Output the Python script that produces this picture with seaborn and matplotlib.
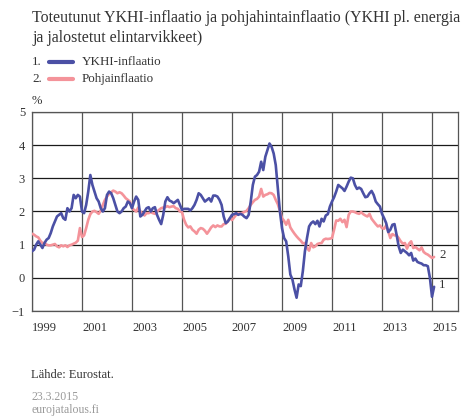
import numpy as np
import pandas as pd
import matplotlib
matplotlib.use("Agg")
import matplotlib.pyplot as plt
import seaborn as sns

# Monthly data Jan 1999 - Feb 2015 (%)
ykhi = [
    0.8, 0.85, 1.0, 1.1, 1.0, 0.9, 1.05, 1.15, 1.2, 1.35, 1.55, 1.7,        # 1999
    1.85, 1.9, 1.95, 1.8, 1.75, 2.1, 2.0, 2.1, 2.5, 2.4, 2.5, 2.45,         # 2000
    2.0, 1.95, 2.2, 2.6, 3.1, 2.8, 2.6, 2.4, 2.3, 2.1, 2.0, 2.1,            # 2001
    2.5, 2.6, 2.55, 2.4, 2.2, 2.0, 1.95, 2.0, 2.1, 2.15, 2.3, 2.25,         # 2002
    2.1, 2.3, 2.45, 2.35, 1.85, 1.9, 2.0, 2.1, 2.13, 2.0, 2.1, 2.13,        # 2003
    1.9, 1.75, 1.62, 1.9, 2.3, 2.43, 2.33, 2.3, 2.25, 2.3, 2.35, 2.2,       # 2004
    2.05, 2.08, 2.08, 2.08, 2.03, 2.1, 2.2, 2.35, 2.55, 2.5, 2.4, 2.3,      # 2005
    2.35, 2.4, 2.3, 2.48, 2.48, 2.45, 2.35, 2.2, 1.85, 1.65, 1.7, 1.8,      # 2006
    1.9, 1.92, 1.95, 1.9, 1.93, 1.9, 1.84, 1.8, 1.9, 2.3, 2.8, 3.05,        # 2007
    3.1, 3.2, 3.5, 3.25, 3.65, 3.85, 4.05, 3.95, 3.75, 3.4, 2.7, 2.0,       # 2008
    1.5, 1.2, 1.1, 0.65, 0.1, -0.05, -0.35, -0.6, -0.2, -0.25, 0.2, 0.8,    # 2009
    1.2, 1.55, 1.65, 1.7, 1.62, 1.72, 1.55, 1.78, 1.7, 1.88, 1.92, 2.15,    # 2010
    2.3, 2.43, 2.6, 2.8, 2.75, 2.7, 2.62, 2.75, 2.9, 3.02, 3.0, 2.8,        # 2011
    2.68, 2.72, 2.68, 2.55, 2.43, 2.45, 2.55, 2.62, 2.5, 2.3, 2.22, 2.15,   # 2012
    1.93, 1.8, 1.65, 1.38, 1.45, 1.6, 1.62, 1.3, 0.95, 0.75, 0.85, 0.8,     # 2013
    0.75, 0.68, 0.75, 0.52, 0.58, 0.48, 0.45, 0.43, 0.38, 0.38, 0.35, 0.0,  # 2014
    -0.57, -0.27,                                                            # 2015
]
pohja = [
    1.33, 1.3, 1.25, 1.22, 1.12, 1.05, 1.05, 1.0, 0.98, 0.98, 1.0, 1.02,    # 1999
    0.95, 0.92, 0.98, 0.95, 0.98, 0.93, 0.98, 1.0, 1.03, 1.06, 1.12, 1.5,   # 2000
    1.23, 1.28, 1.5, 1.75, 1.92, 2.0, 2.02, 1.98, 1.93, 2.03, 2.2, 2.35,    # 2001
    2.45, 2.53, 2.58, 2.63, 2.6, 2.55, 2.58, 2.55, 2.48, 2.4, 2.35, 2.3,    # 2002
    2.1, 2.05, 2.0, 2.12, 2.0, 1.95, 1.88, 1.95, 1.95, 1.98, 1.95, 1.93,    # 2003
    2.0, 2.05, 2.1, 2.12, 2.13, 2.16, 2.13, 2.15, 2.16, 2.1, 2.08, 2.0,     # 2004
    1.98, 1.75, 1.6, 1.52, 1.55, 1.45, 1.4, 1.33, 1.45, 1.5, 1.48, 1.42,    # 2005
    1.33, 1.42, 1.52, 1.58, 1.53, 1.58, 1.55, 1.55, 1.62, 1.63, 1.7, 1.8,   # 2006
    1.74, 1.82, 1.9, 1.94, 1.94, 1.96, 1.99, 2.02, 2.1, 2.2, 2.28, 2.35,    # 2007
    2.38, 2.45, 2.68, 2.45, 2.5, 2.52, 2.56, 2.55, 2.5, 2.35, 2.22, 2.02,   # 2008
    1.8, 1.72, 1.6, 1.75, 1.52, 1.42, 1.33, 1.25, 1.18, 1.12, 1.04, 1.05,   # 2009
    0.9, 0.82, 1.05, 0.92, 0.95, 1.02, 1.04, 1.05, 1.15, 1.18, 1.17, 1.18,  # 2010
    1.2, 1.45, 1.73, 1.72, 1.78, 1.68, 1.75, 1.53, 1.9, 2.0, 2.0, 1.98,     # 2011
    1.95, 1.93, 1.98, 1.92, 1.88, 1.85, 1.93, 1.78, 1.7, 1.62, 1.55, 1.58,  # 2012
    1.5, 1.48, 1.58, 1.4, 1.2, 1.32, 1.28, 1.28, 1.2, 1.1, 1.03, 1.05,      # 2013
    0.88, 1.03, 1.1, 0.9, 0.93, 0.88, 0.83, 0.92, 0.78, 0.73, 0.7, 0.65,    # 2014
    0.6, 0.63,                                                               # 2015
]
start_year = 1999
tick_years = list(range(1999, 2016, 2))
y_ticks = [-1, 0, 1, 2, 3, 4, 5]
series_names = ["YKHI-inflaatio", "Pohjainflaatio"]
colors = ["#4b50a5", "#f4939a"]

t = start_year + np.arange(len(ykhi)) / 12.0
df = pd.DataFrame({
    "t": np.concatenate([t, t]),
    "v": np.array(ykhi + pohja),
    "s": [series_names[0]] * len(ykhi) + [series_names[1]] * len(pohja),
})

sns.set_theme(style="white")
plt.rcParams["font.family"] = ["Liberation Serif", "DejaVu Serif"]

fig = plt.figure(figsize=(4.64, 4.19), dpi=100)
ax = fig.add_axes([32 / 464, 1 - 311 / 419, 426 / 464, 199 / 419])

# grid
for yv in y_ticks:
    ax.axhline(yv, color="#1a1a1a", lw=0.9, zorder=1)
for xv in tick_years:
    ax.axvline(xv, color="#555555", lw=0.9, zorder=1)

sns.lineplot(data=df, x="t", y="v", hue="s", hue_order=series_names[::-1],
             palette={series_names[0]: colors[0], series_names[1]: colors[1]},
             lw=1.9, ax=ax, legend=False, zorder=3)

ax.set_xlim(1999, 2016.04)
ax.set_ylim(-1, 5)
ax.set_xticks([y + 0.5 for y in tick_years])
ax.set_xticklabels([str(y) for y in tick_years])
ax.set_yticks(y_ticks)
ax.set_yticklabels(["\u22121" if v < 0 else str(v) for v in y_ticks])
ax.set_xlabel("")
ax.set_ylabel("")
ax.tick_params(axis="both", length=0, labelsize=9, colors="#333333")
ax.tick_params(axis="x", pad=8)
ax.tick_params(axis="y", pad=5)
for sp in ax.spines.values():
    sp.set_color("#555555")
    sp.set_linewidth(0.9)

# end labels
ax.text(t[-1] + 0.2, ykhi[-1] + 0.05, "1", fontsize=9.3, color="#333333", va="center")
ax.text(t[-1] + 0.2, pohja[-1] + 0.05, "2", fontsize=9.3, color="#333333", va="center")

# title and legend
fig.text(32 / 464, 1 - 18 / 419,
         "Toteutunut YKHI-inflaatio ja pohjahintainflaatio (YKHI pl. energia",
         fontsize=11.4, color="#333333", va="center")
fig.text(32 / 464, 1 - 38 / 419, "ja jalostetut elintarvikkeet)",
         fontsize=11.4, color="#333333", va="center")
for i, (name, c) in enumerate(zip(series_names, colors)):
    yy = 1 - (62 + 17 * i) / 419
    fig.text(32 / 464, yy, f"{i + 1}.", fontsize=9.4, color="#333333", va="center")
    fig.add_artist(plt.Line2D([49 / 464, 73 / 464], [yy, yy], color=c, lw=3,
                              solid_capstyle="round", transform=fig.transFigure))
    fig.text(82 / 464, yy, name, fontsize=9.4, color="#333333", va="center")

fig.text(32 / 464, 1 - 101 / 419, "%", fontsize=9, color="#333333", va="center")
fig.text(31 / 464, 1 - 375 / 419, "Lähde: Eurostat.", fontsize=9, color="#333333", va="center")
fig.text(32 / 464, 1 - 397 / 419, "23.3.2015", fontsize=8.5, color="#999999", va="center")
fig.text(32 / 464, 1 - 410 / 419, "eurojatalous.fi", fontsize=8.5, color="#999999", va="center")

fig.savefig("out.png", dpi=100)
